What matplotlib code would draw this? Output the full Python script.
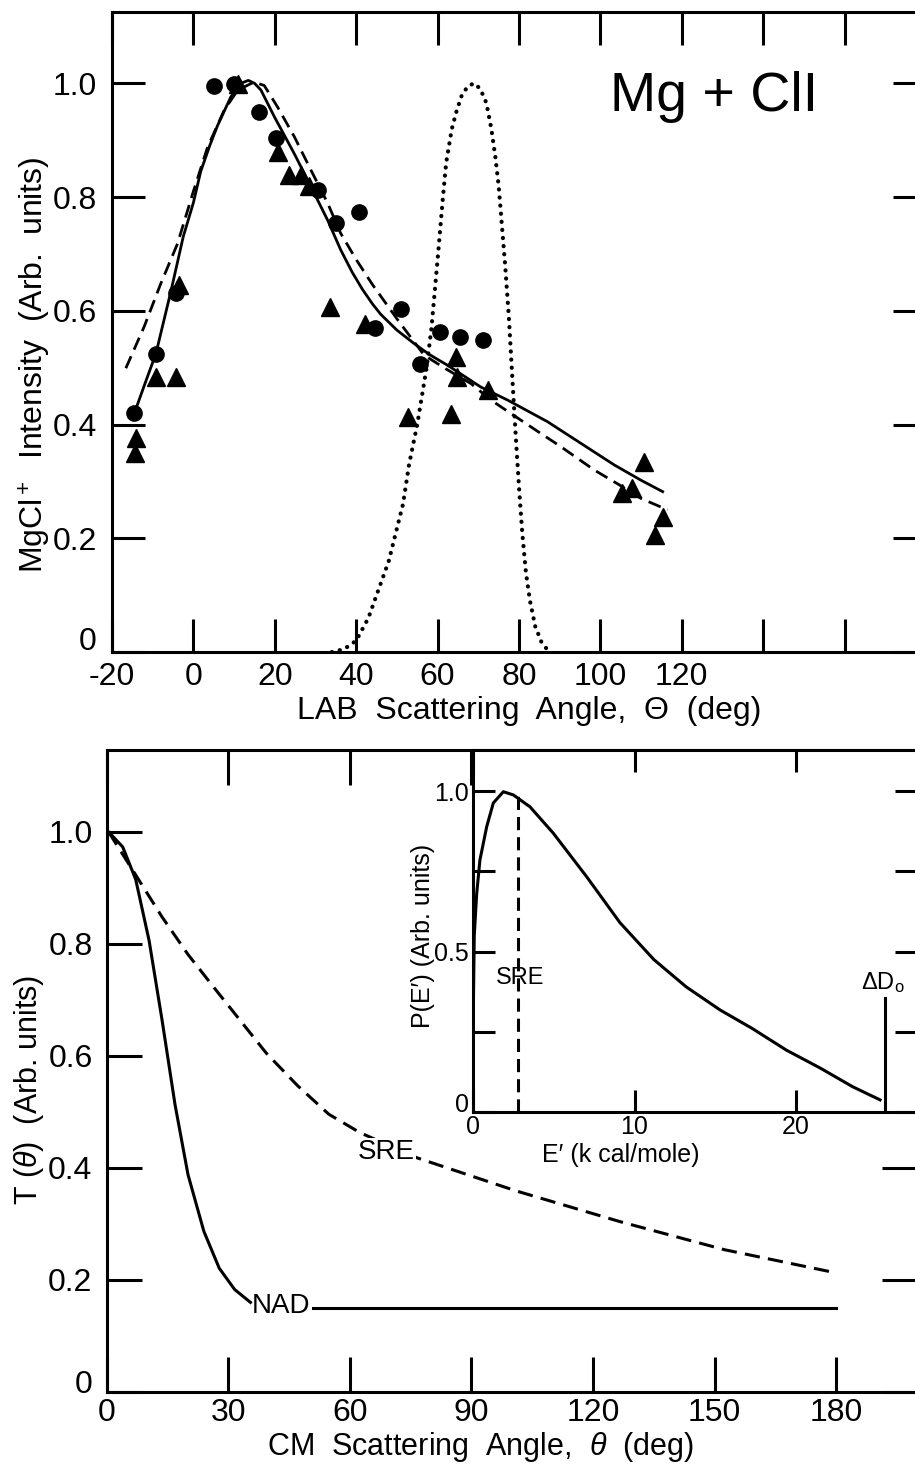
import matplotlib
matplotlib.use("Agg")
import matplotlib.pyplot as plt

plt.rcParams["font.family"] = ["Liberation Sans", "DejaVu Sans"]
plt.rcParams["mathtext.fontset"] = "custom"
plt.rcParams["mathtext.rm"] = "Liberation Sans"
plt.rcParams["mathtext.it"] = "Liberation Sans:italic"

# ---- top panel: lab angular distribution ----
circle_theta = [-14.5, -9.2, -4.3, 5.1, 10.0, 16.1, 20.3, 30.6, 35.0, 40.7, 44.7, 50.9, 55.7, 60.6, 65.6, 71.1]
circle_int = [0.42, 0.524, 0.631, 0.996, 0.998, 0.950, 0.903, 0.812, 0.754, 0.773, 0.569, 0.603, 0.506, 0.563, 0.554, 0.548]

tri_theta = [-14.1, -14.4, -9.2, -4.3, -3.6, 10.9, 20.7, 23.5, 26.4, 28.4, 33.6, 42.2, 52.7, 63.4,
             64.6, 64.8, 72.5, 105.3, 107.8, 110.6, 113.3, 115.5]
tri_int = [0.376, 0.35, 0.484, 0.484, 0.645, 0.998, 0.879, 0.838, 0.838, 0.82, 0.606, 0.576, 0.413, 0.418,
           0.519, 0.483, 0.46, 0.279, 0.288, 0.334, 0.206, 0.237]

fit_solid_theta = [-14.5, -12, -9.2, -5.5, -2.5, 0, 1.8, 4, 5.9, 9.2, 11.7, 13.5, 15, 16.6, 19.9, 24.8,
                   28.9, 33, 36.2, 39, 41.5, 44, 46, 50, 54.3, 58, 62.5, 70.6, 77.2, 87, 95.2, 103.4, 110, 115.3]
fit_solid_int = [0.42, 0.47, 0.525, 0.635, 0.73, 0.79, 0.845, 0.89, 0.925, 0.976, 1.0, 1.005, 1.0, 0.988,
                 0.941, 0.876, 0.818, 0.759, 0.707, 0.668, 0.638, 0.612, 0.594, 0.566, 0.542, 0.523, 0.504,
                 0.466, 0.443, 0.405, 0.367, 0.329, 0.302, 0.282]

fit_dash_theta = [-16.6, -12.1, -8, -3.9, 0, 3.5, 7.6, 10.9, 14.9, 17.4, 20.7, 24.8, 28.9, 33, 36.2, 40,
                  44, 50.4, 56.7, 62, 68.2, 73.1, 82.9, 90.3, 98.5, 104.4, 110, 116.5]
fit_dash_int = [0.499, 0.572, 0.648, 0.718, 0.81, 0.888, 0.953, 0.988, 1.002, 0.996, 0.958, 0.906, 0.847,
                0.789, 0.736, 0.69, 0.646, 0.582, 0.522, 0.498, 0.472, 0.443, 0.396, 0.361, 0.32, 0.295,
                0.27, 0.25]

beam_theta = [34, 37, 40, 43, 46, 48, 51.5, 53, 55, 57.3, 58.5, 60, 61.2, 62.1, 63.5, 64.7, 66, 67.5, 69,
              70.5, 72, 73.2, 74.2, 75, 75.8, 76.6, 77.5, 78.3, 79.2, 80, 80.8, 81.7, 82.7, 84, 85.5, 87.4]
beam_int = [0.0, 0.005, 0.02, 0.06, 0.12, 0.16, 0.26, 0.33, 0.40, 0.50, 0.57, 0.69, 0.79, 0.86, 0.92, 0.952,
            0.98, 0.995, 1.0, 0.99, 0.965, 0.92, 0.87, 0.82, 0.75, 0.68, 0.59, 0.49, 0.38, 0.29, 0.21,
            0.14, 0.09, 0.045, 0.018, 0.0]

lab_ticks = [-20, 0, 20, 40, 60, 80, 100, 120, 140, 160, 180]
lab_ticklabels = ["-20", "0", "20", "40", "60", "80", "100", "120", "", "", ""]
int_ticks = [0, 0.2, 0.4, 0.6, 0.8, 1.0]
int_ticklabels = ["", "0.2", "0.4", "0.6", "0.8", "1.0"]   # "0" placed by hand, slightly raised

# ---- bottom panel: CM angular distribution ----
nad_theta = [0.5, 4, 7.2, 10.5, 13.7, 16.9, 20.1, 24, 27.8, 31.6, 35.5]
nad_t = [1.0, 0.973, 0.915, 0.806, 0.664, 0.513, 0.388, 0.287, 0.221, 0.183, 0.16]
nad_tail_theta = [51, 180]
nad_tail_t = [0.15, 0.15]

sre_theta = [0.5, 7.2, 13.7, 20.1, 26.5, 32.9, 39.4, 47.1, 54.8, 62.5, 76.6, 101, 126.7, 152.4, 180]
sre_t = [1.0, 0.923, 0.848, 0.781, 0.722, 0.664, 0.605, 0.547, 0.496, 0.463, 0.418, 0.359, 0.304, 0.254, 0.2125]

cm_ticks = [0, 30, 60, 90, 120, 150, 180]
cm_ticklabels = ["0", "30", "60", "90", "120", "150", "180"]

# ---- inset: product translational energy distribution ----
pe_energy = [0, 0.03, 0.08, 0.23, 0.43, 0.85, 1.26, 1.88, 2.5, 3.53, 4.97, 7.04, 9.1, 11.2, 13.2, 15.3,
             17.3, 19.4, 21.5, 23.5, 25.2]
pe_prob = [0, 0.35, 0.55, 0.68, 0.785, 0.889, 0.963, 0.998, 0.988, 0.951, 0.869, 0.733, 0.59, 0.475, 0.39,
           0.318, 0.26, 0.193, 0.137, 0.079, 0.038]
sre_energy = 2.8
d0_energy = 25.5
d0_height = 0.355

LW = 2.2
TICK_FS = 23


def style_axis(ax, length, fs=TICK_FS, pad=8):
    for s in ax.spines.values():
        s.set_linewidth(LW)
    ax.tick_params(which="both", direction="in", length=length, width=LW,
                   top=True, right=True, labelsize=fs, pad=pad)


def zero_label(ax, dx, dy, fs=TICK_FS):
    ax.annotate("0", xy=(0, 0), xycoords="axes fraction", xytext=(dx, dy),
                textcoords="offset points", ha="right", va="center", fontsize=fs)


fig = plt.figure(figsize=(9.15, 14.64), dpi=100)

# top panel
ax1 = fig.add_axes([0.1224, 0.5546, 0.8896, 0.4375])
ax1.plot(fit_solid_theta, fit_solid_int, color="black", lw=2.0)
ax1.plot(fit_dash_theta, fit_dash_int, color="black", lw=2.0, dashes=(4.7, 2.6))
ax1.plot(beam_theta, beam_int, color="black", lw=3.0, linestyle=(0, (0.05, 1.9)),
         dash_capstyle="round", solid_capstyle="round")
ax1.plot(circle_theta, circle_int, "o", color="black", ms=11, mec="black")
ax1.plot(tri_theta, tri_int, "^", color="black", ms=13.5, mec="black")
ax1.set_xlim(-20, 180)
ax1.set_ylim(0, 1.126)
ax1.set_xticks(lab_ticks)
ax1.set_xticklabels(lab_ticklabels)
ax1.set_yticks(int_ticks)
ax1.set_yticklabels(int_ticklabels)
style_axis(ax1, 24)
ax1.tick_params(axis="y", pad=11)
ax1.tick_params(axis="x", pad=7)
zero_label(ax1, -11, 7)
ax1.text(128, 0.975, "Mg + ClI", fontsize=40, ha="center", va="center")
ax1.set_xlabel("LAB  Scattering  Angle,  Θ  (deg)", fontsize=23)
ax1.xaxis.set_label_coords(0.512, -0.068)
ax1.set_ylabel("MgCl$^+$  Intensity  (Arb.  units)", fontsize=23)
ax1.yaxis.set_label_coords(-0.072, 0.448)

# bottom panel
ax2 = fig.add_axes([0.1164, 0.04918, 0.8863, 0.4385])
ax2.plot(nad_theta, nad_t, color="black", lw=2.2)
ax2.plot(nad_tail_theta, nad_tail_t, color="black", lw=2.2)
ax2.plot(sre_theta, sre_t, color="black", lw=2.2, dashes=(5, 2.7))
ax2.text(35.8, 0.153, "NAD", fontsize=20, ha="left", va="center")
ax2.text(62.0, 0.428, "SRE", fontsize=20, ha="left", va="center",
         bbox=dict(facecolor="white", edgecolor="none", pad=0.5))
ax2.set_xlim(0, 200)
ax2.set_ylim(0, 1.146)
ax2.set_xticks(cm_ticks)
ax2.set_xticklabels(cm_ticklabels)
ax2.set_yticks(int_ticks)
ax2.set_yticklabels(int_ticklabels)
style_axis(ax2, 25)
ax2.tick_params(axis="y", pad=10)
ax2.tick_params(axis="x", pad=4)
zero_label(ax2, -10, 5)
ax2.set_xlabel("CM  Scattering  Angle,  $\\it{\\theta}$  (deg)", fontsize=22)
ax2.xaxis.set_label_coords(0.461, -0.0585)
ax2.set_ylabel("T ($\\it{\\theta}$)  (Arb. units)", fontsize=22)
ax2.yaxis.set_label_coords(-0.075, 0.47)

# inset
ax3 = fig.add_axes([0.5169, 0.2404, 0.4855, 0.2473])
ax3.set_facecolor("white")
ax3.plot(pe_energy, pe_prob, color="black", lw=2.2)
ax3.plot([sre_energy, sre_energy], [0, 1.0], color="black", lw=2.2, dashes=(4.3, 2.3))
ax3.plot([d0_energy, d0_energy], [0, d0_height], color="black", lw=2.2)
ax3.text(2.9, 0.417, "SRE", fontsize=17, ha="center", va="center")
ax3.text(25.4, 0.405, "ΔD$_{\\rm o}$", fontsize=17, ha="center", va="center")
ax3.set_xlim(0, 27.5)
ax3.set_ylim(0, 1.128)
ax3.set_xticks([0, 10, 20])
ax3.set_xticklabels(["0", "10", "20"])
ax3.set_yticks([0, 0.25, 0.5, 0.75, 1.0])
ax3.set_yticklabels(["", "", "0.5", "", "1.0"])
style_axis(ax3, 16, fs=18, pad=3)
ax3.tick_params(axis="x", pad=2)
zero_label(ax3, -3, 5, fs=18)
ax3.set_xlabel("E′ (k cal/mole)", fontsize=18)
ax3.xaxis.set_label_coords(0.333, -0.085)
ax3.set_ylabel("P(E′) (Arb. units)", fontsize=18)
ax3.yaxis.set_label_coords(-0.086, 0.486)

fig.savefig("out.png", dpi=100)
